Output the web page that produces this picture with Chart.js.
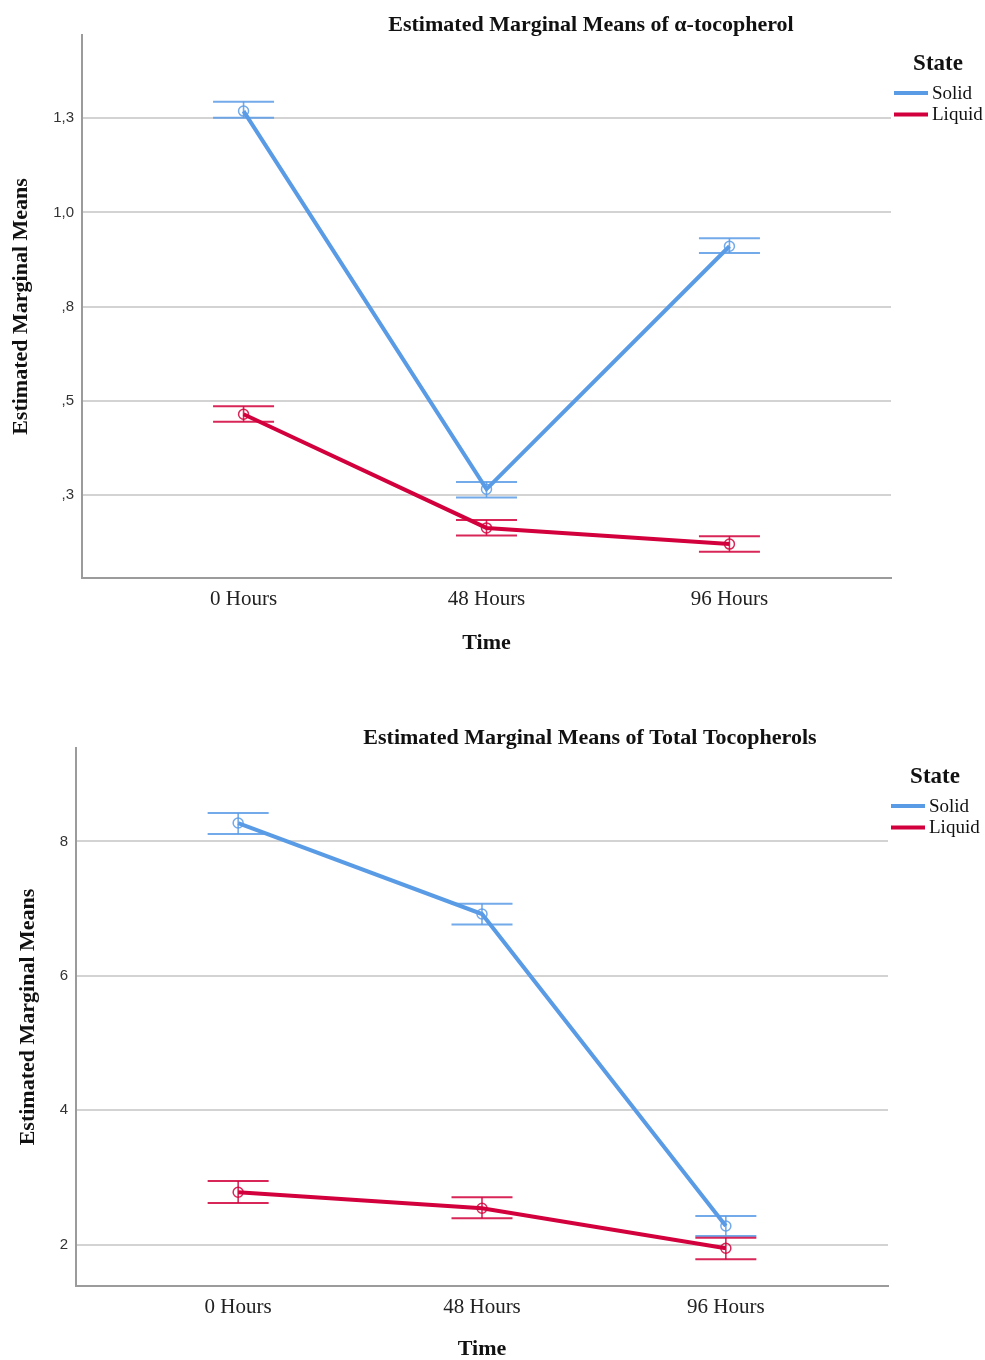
<!DOCTYPE html>
<html>
<head>
<meta charset="utf-8">
<script src="https://cdn.jsdelivr.net/npm/chart.js@4/dist/chart.umd.min.js"></script>
<style>
  html, body { margin: 0; padding: 0; background: #fff; width: 985px; height: 1360px; overflow: hidden; }
  .panel { position: absolute; left: 0; }
</style>
</head>
<body>
<div class="panel" style="top:0"><canvas id="alpha" width="985" height="680"></canvas></div>
<div class="panel" style="top:690px"><canvas id="total" width="985" height="673"></canvas></div>
<script>
// Shared categories and grouping
const timeLabels = ['0 Hours', '48 Hours', '96 Hours'];
const stateNames = ['Solid', 'Liquid'];
const legendTitle = 'State';
const xTitle = 'Time';
const yTitle = 'Estimated Marginal Means';

// α-tocopherol: means with lower / upper error limits
const alphaTitle = 'Estimated Marginal Means of α-tocopherol';
const alphaSolid = [1.269, 0.265, 0.910];
const alphaSolidLow = [1.251, 0.243, 0.892];
const alphaSolidHigh = [1.294, 0.284, 0.931];
const alphaLiquid = [0.464, 0.162, 0.119];
const alphaLiquidLow = [0.444, 0.142, 0.099];
const alphaLiquidHigh = [0.485, 0.183, 0.140];
const alphaTicks = [0.25, 0.5, 0.75, 1.0, 1.25];
const alphaTickLabels = [',3', ',5', ',8', '1,0', '1,3'];

// Total tocopherols: means with lower / upper error limits
const totalTitle = 'Estimated Marginal Means of Total Tocopherols';
const totalSolid = [8.274, 6.920, 2.280];
const totalSolidLow = [8.109, 6.765, 2.131];
const totalSolidHigh = [8.422, 7.073, 2.429];
const totalLiquid = [2.781, 2.543, 1.948];
const totalLiquidLow = [2.622, 2.394, 1.784];
const totalLiquidHigh = [2.950, 2.707, 2.106];
const totalTicks = [2, 4, 6, 8];
const totalTickLabels = ['2', '4', '6', '8'];

const SOLID = '#5A9BE6';
const LIQUID = '#D2003C';
const SOLID_BAR = 'rgba(90,155,230,0.85)';
const LIQUID_BAR = 'rgba(210,0,60,0.85)';
const serif = '"Liberation Serif", "Times New Roman", serif';
const sans = '"Liberation Sans", Arial, sans-serif';

// Error bars (stem + caps) drawn beneath the lines
const errorBars = {
  id: 'errorBars',
  beforeDatasetsDraw(chart, args, opts) {
    const { ctx } = chart;
    const xs = chart.scales.x, ys = chart.scales.y;
    ctx.save();
    chart.data.datasets.forEach(ds => {
      ds.data.forEach((pt, i) => {
        const x = xs.getPixelForValue(pt.x);
        const yl = ys.getPixelForValue(ds.errLow[i]);
        const yh = ys.getPixelForValue(ds.errHigh[i]);
        ctx.strokeStyle = ds.barColor;
        ctx.lineWidth = 1.6;
        ctx.beginPath();
        ctx.moveTo(x, yl); ctx.lineTo(x, yh);
        ctx.stroke();
        ctx.lineWidth = 2;
        ctx.beginPath();
        ctx.moveTo(x - opts.cap, yl); ctx.lineTo(x + opts.cap, yl);
        ctx.moveTo(x - opts.cap, yh); ctx.lineTo(x + opts.cap, yh);
        ctx.stroke();
      });
    });
    ctx.restore();
  }
};

// Panel heading and the "State" key at the right of the plot
const panelText = {
  id: 'panelText',
  afterDraw(chart, args, o) {
    const { ctx, chartArea } = chart;
    ctx.save();
    ctx.fillStyle = '#111';
    ctx.textBaseline = 'middle';
    ctx.textAlign = 'center';
    ctx.font = `bold 22px ${serif}`;
    ctx.fillText(o.title, o.titleX, chartArea.top - 10);
    ctx.font = `bold 23px ${serif}`;
    ctx.fillText(legendTitle, chartArea.right + 47, chartArea.top + 29.5);
    ctx.font = `19px ${serif}`;
    ctx.textAlign = 'left';
    const lx = chartArea.right + 3;
    chart.data.datasets.forEach((ds, i) => {
      const y = chartArea.top + 58 + i * 21.5;
      ctx.strokeStyle = ds.borderColor;
      ctx.lineWidth = 4;
      ctx.beginPath();
      ctx.moveTo(lx, y); ctx.lineTo(lx + 34, y);
      ctx.stroke();
      ctx.fillStyle = '#111';
      ctx.fillText(ds.label, lx + 38, y + 1);
    });
    ctx.restore();
  }
};

function series(label, values, low, high, color, barColor) {
  return {
    label,
    data: values.map((v, i) => ({ x: i, y: v })),
    errLow: low,
    errHigh: high,
    barColor,
    borderColor: color,
    borderWidth: 4,
    pointRadius: 5,
    pointBorderWidth: 1.5,
    pointBorderColor: barColor,
    pointBackgroundColor: 'rgba(0,0,0,0)',
    tension: 0,
    fill: false
  };
}

function makePanel(id, c) {
  return new Chart(document.getElementById(id), {
    type: 'line',
    data: {
      datasets: [
        series(stateNames[0], c.solid, c.solidLow, c.solidHigh, SOLID, SOLID_BAR),
        series(stateNames[1], c.liquid, c.liquidLow, c.liquidHigh, LIQUID, LIQUID_BAR)
      ]
    },
    options: {
      responsive: false,
      animation: false,
      devicePixelRatio: 1,
      events: [],
      layout: { padding: { top: c.padTop, right: c.padRight, left: 0, bottom: 0 } },
      plugins: {
        legend: { display: false },
        tooltip: { enabled: false },
        errorBars: { cap: 30.5 },
        panelText: { title: c.title, titleX: c.titleX }
      },
      scales: {
        x: {
          type: 'linear',
          bounds: 'data',
          min: -0.665,
          max: 2.665,
          afterBuildTicks: s => { s.ticks = timeLabels.map((_, i) => ({ value: i })); },
          afterFit: s => { s.height = c.xHeight; },
          ticks: {
            callback: v => timeLabels[v],
            font: { family: serif, size: 21 },
            color: '#222',
            padding: 9,
            maxRotation: 0,
            autoSkip: false
          },
          grid: { display: false, drawTicks: false },
          border: { display: true, color: '#9b9b9b', width: 2 },
          title: {
            display: true,
            text: xTitle,
            font: { family: serif, size: 22, weight: 'bold' },
            color: '#111',
            padding: { top: 0, bottom: c.xTitlePad }
          }
        },
        y: {
          type: 'linear',
          bounds: 'data',
          min: c.yMin,
          max: c.yMax,
          afterBuildTicks: s => { s.ticks = c.ticks.map(v => ({ value: v })); },
          afterFit: s => { s.width = c.yWidth; },
          ticks: {
            callback: v => c.tickLabels[c.ticks.indexOf(v)],
            font: { family: sans, size: 15 },
            color: '#333',
            padding: 8,
            autoSkip: false
          },
          grid: { color: '#d3d3d3', lineWidth: 2, drawTicks: false },
          border: { display: true, color: '#9b9b9b', width: 2 },
          title: {
            display: true,
            text: yTitle,
            font: { family: serif, size: 22, weight: 'bold' },
            color: '#111',
            padding: { top: c.yTitlePad, bottom: 0 }
          }
        }
      }
    },
    plugins: [errorBars, panelText]
  });
}

makePanel('alpha', {
  title: alphaTitle, titleX: 591,
  solid: alphaSolid, solidLow: alphaSolidLow, solidHigh: alphaSolidHigh,
  liquid: alphaLiquid, liquidLow: alphaLiquidLow, liquidHigh: alphaLiquidHigh,
  ticks: alphaTicks, tickLabels: alphaTickLabels,
  yMin: 0.029, yMax: 1.471,
  padTop: 35, padRight: 94, yWidth: 82, xHeight: 102,
  xTitlePad: 23, yTitlePad: 8.5
});

makePanel('total', {
  title: totalTitle, titleX: 590,
  solid: totalSolid, solidLow: totalSolidLow, solidHigh: totalSolidHigh,
  liquid: totalLiquid, liquidLow: totalLiquidLow, liquidHigh: totalLiquidHigh,
  ticks: totalTicks, tickLabels: totalTickLabels,
  yMin: 1.387, yMax: 9.390,
  padTop: 58, padRight: 97, yWidth: 76, xHeight: 77,
  xTitlePad: 0, yTitlePad: 15
});
</script>
</body>
</html>
